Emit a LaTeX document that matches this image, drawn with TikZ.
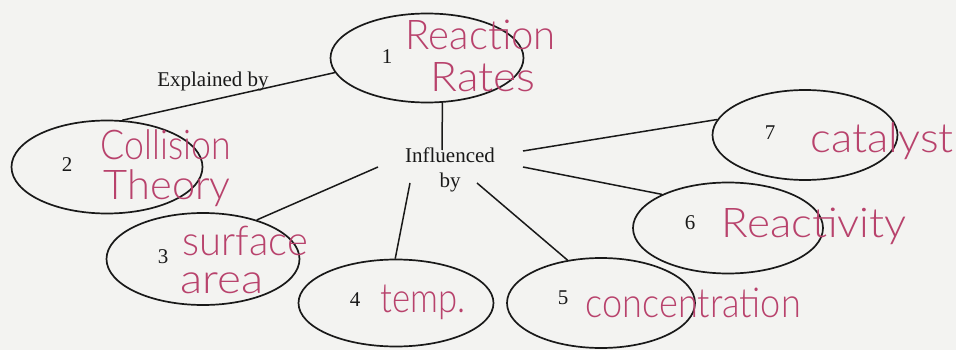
\documentclass[tikz,border=0pt]{standalone}
\usepackage{fontspec}
\setmainfont{Liberation Serif}
\IfFontExistsTF{Lato Light}{\newfontfamily\handfont{Lato Light}}{\newfontfamily\handfont{Lato}}
\usepackage{graphicx}
\usetikzlibrary{shapes.geometric,positioning}
\definecolor{paper}{RGB}{243,243,241}
\definecolor{ink}{RGB}{25,25,25}
\definecolor{pen}{RGB}{184,66,108}
\newcommand{\handword}[2]{\resizebox{#1pt}{\height}{#2}}

\begin{document}
\begin{tikzpicture}[x=1pt, y=-1pt, line width=1.5pt, draw=ink,
    bubble/.style 2 args={ellipse, draw=ink, line width=1.7pt, inner sep=0pt,
      minimum width=#1pt, minimum height=#2pt},
    num/.style={font=\fontsize{21}{23}\selectfont, text=ink},
    printed/.style={font=\fontsize{21}{25}\selectfont, text=ink, align=center},
    hand/.style={font=\handfont\fontsize{41}{41}\selectfont, text=pen,
      anchor=base west, inner sep=0pt}]
  \fill[paper] (0,0) rectangle (956,350);
  \useasboundingbox (0,0) rectangle (956,350);
  % ellipses
  \node[bubble={193}{89}] (e1) at (427,58) {};
  \node[bubble={191}{93}] (e2) at (107,167) {};
  \node[bubble={193}{92}] (e3) at (203,259) {};
  \node[bubble={195}{87}] (e4) at (396,303) {};
  \node[bubble={188}{90}] (e5) at (601,303) {};
  \node[bubble={190}{91}] (e6) at (728,228) {};
  \node[bubble={185}{90}] (e7) at (805,135) {};
  % numbers
  \node[num] (n1) at (387,57) {1};
  \node[num] (n2) at (67,165) {2};
  \node[num] (n3) at (163,257) {3};
  \node[num] (n4) at (355,300) {4};
  \node[num] (n5) at (563,298) {5};
  \node[num] (n6) at (690,223) {6};
  \node[num] (n7) at (770,133) {7};
  % printed labels
  \node[printed] (expl) at (213,81) {Explained by};
  \node[printed] (infl) at (450,170) {Influenced\\by};
  % free ends round the hub
  \coordinate (c1) at (442,150);
  \coordinate (c3) at (378,167);
  \coordinate (c4) at (410,183);
  \coordinate (c5) at (477,183);
  \coordinate (c6) at (523,167);
  \coordinate (c7) at (523,151);
  % connectors
  \draw (e1.189) -- (e2.72);
  \draw (e1.289) -- (c1);
  \draw (c3) -- (e3.36);
  \draw (c4) -- (e4.91);
  \draw (c5) -- (e5.128);
  \draw (c6) -- (e6.153);
  \draw (c7) -- (e7.170);
  % handwritten answers
  \node[hand] (h1a) at (405,50) {\handword{150}{Reaction}};
  \node[hand] (h1b) at (430,92) {\handword{105}{Rates}};
  \node[hand] (h2a) at (100,160) {\handword{130}{Collision}};
  \node[hand] (h2b) at (103,200) {\handword{127}{Theory}};
  \node[hand] (h3a) at (182,255) {\handword{125}{surface}};
  \node[hand] (h3b) at (180,293) {\handword{83}{area}};
  \node[hand] (h4) at (380,312) {\handword{85}{temp.}};
  \node[hand] (h5) at (585,317) {\handword{215}{concentration}};
  \node[hand] (h6) at (721,237) {\handword{185}{Reactivity}};
  \node[hand] (h7) at (810,153) {\handword{143}{catalyst}};
\end{tikzpicture}
\end{document}
